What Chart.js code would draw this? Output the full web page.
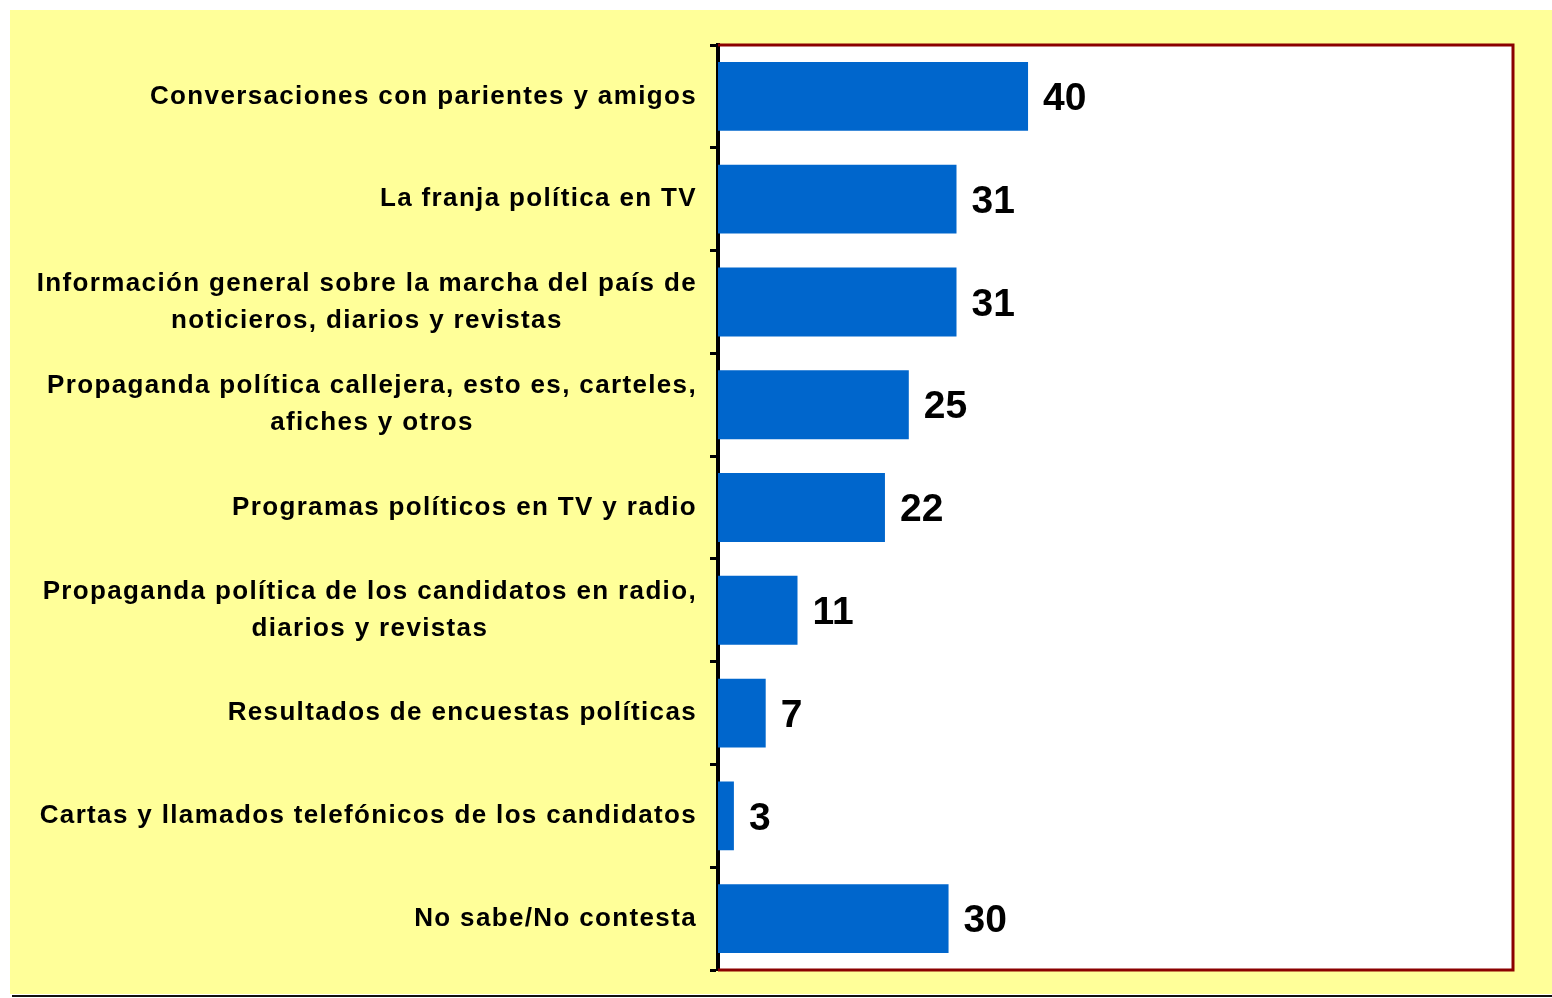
<!DOCTYPE html>
<html>
<head>
<meta charset="utf-8">
<script src="https://cdn.jsdelivr.net/npm/chart.js@4.4.1/dist/chart.umd.min.js"></script>
<style>
  html, body { margin: 0; padding: 0; background: #fff; }
  #wrap { width: 1552px; height: 998px; }
</style>
</head>
<body>
<div id="wrap"><canvas id="chart" width="1552" height="998"></canvas></div>
<script>
// Fuentes de información política
const categories = [
    ['Conversaciones con parientes y amigos'],
    ['La franja política en TV'],
    ['Información general sobre la marcha del país de', 'noticieros, diarios y revistas'],
    ['Propaganda política callejera, esto es, carteles,', 'afiches y otros'],
    ['Programas políticos en TV y radio'],
    ['Propaganda política de los candidatos en radio,', 'diarios y revistas'],
    ['Resultados de encuestas políticas'],
    ['Cartas y llamados telefónicos de los candidatos'],
    ['No sabe/No contesta']
];
const values = [40, 31, 31, 25, 22, 11, 7, 3, 30];

const YELLOW = '#FFFF99';
const BLUE = '#0066CC';
const DARKRED = '#8B0000';

// background, plot box
const backdrop = {
    id: 'backdrop',
    beforeDraw(chart) {
        const ctx = chart.ctx, a = chart.chartArea;
        ctx.save();
        ctx.fillStyle = '#fff';
        ctx.fillRect(0, 0, chart.width, chart.height);
        ctx.fillStyle = YELLOW;
        ctx.fillRect(10, 10, chart.width - 10, 984);
        ctx.fillStyle = '#fff';
        ctx.fillRect(a.left, a.top, a.right - a.left, a.bottom - a.top);
        ctx.fillStyle = '#111';
        ctx.fillRect(12, 995, chart.width - 12, 2);
        ctx.restore();
    },
    beforeDatasetsDraw(chart) {
        const ctx = chart.ctx, a = chart.chartArea;
        ctx.save();
        ctx.strokeStyle = DARKRED;
        ctx.lineWidth = 3;
        ctx.beginPath();
        ctx.moveTo(a.left, a.top);
        ctx.lineTo(a.right, a.top);
        ctx.lineTo(a.right, a.bottom);
        ctx.lineTo(a.left, a.bottom);
        ctx.stroke();
        ctx.restore();
    }
};

// category labels (centred lines, block right aligned) + value labels
const labelsPlugin = {
    id: 'labelsPlugin',
    afterDraw(chart) {
        const ctx = chart.ctx;
        const y = chart.scales.y;
        const meta = chart.getDatasetMeta(0);
        ctx.save();
        ctx.fillStyle = '#000';
        ctx.textBaseline = 'middle';

        ctx.font = 'bold 26px "Liberation Sans", Arial, sans-serif';
        ctx.letterSpacing = '1.35px';
        ctx.textAlign = 'center';
        const rightEdge = 697;
        const lineH = 37;
        categories.forEach((lines, i) => {
            const cy = y.getPixelForValue(i);
            const maxW = Math.max(...lines.map(l => ctx.measureText(l).width));
            const cx = rightEdge - maxW / 2;
            const y0 = cy - (lines.length - 1) * lineH / 2;
            lines.forEach((l, j) => ctx.fillText(l, cx, y0 + j * lineH));
        });

        ctx.font = 'bold 39px "Liberation Sans", Arial, sans-serif';
        ctx.letterSpacing = '0px';
        ctx.textAlign = 'left';
        meta.data.forEach((bar, i) => {
            ctx.fillText(String(values[i]), bar.x + 15, bar.y + 3);
        });
        ctx.restore();
    }
};

new Chart(document.getElementById('chart'), {
    type: 'bar',
    data: {
        labels: categories,
        datasets: [{
            data: values,
            backgroundColor: BLUE,
            borderWidth: 0,
            barPercentage: 0.67,
            categoryPercentage: 1
        }]
    },
    plugins: [backdrop, labelsPlugin],
    options: {
        indexAxis: 'y',
        responsive: false,
        animation: false,
        events: [],
        layout: { padding: { left: 10, top: 45, right: 39, bottom: 28 } },
        plugins: { legend: { display: false }, tooltip: { enabled: false } },
        scales: {
            x: {
                display: false,
                min: 1,
                max: 101
            },
            y: {
                z: 1,
                ticks: { display: false },
                grid: {
                    offset: true,
                    drawOnChartArea: false,
                    drawTicks: true,
                    tickLength: 8,
                    tickWidth: 3,
                    tickColor: '#000'
                },
                border: { display: true, color: '#000', width: 4 },
                afterFit(scale) { scale.width = 708; }
            }
        }
    }
});
</script>
</body>
</html>
